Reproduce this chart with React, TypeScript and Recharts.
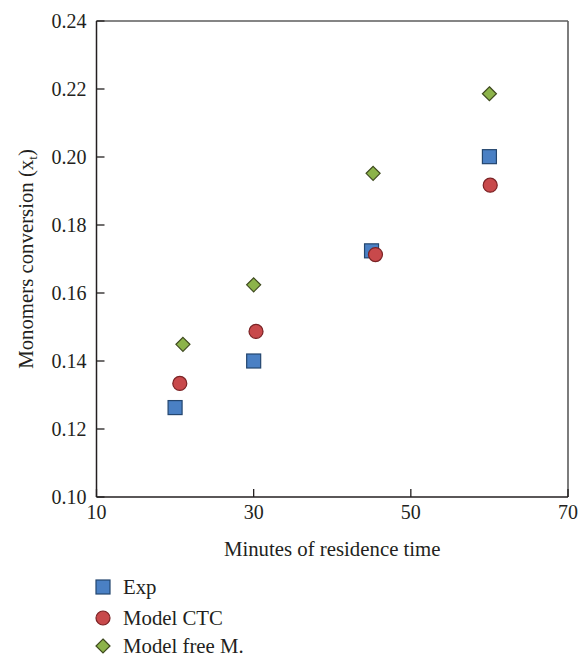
import { ScatterChart, Scatter, XAxis, YAxis, ReferenceLine, Label } from "recharts";

// residence time (min) and monomer conversion for each series
const expTime = [20, 30, 45, 60];
const expConv = [0.1263, 0.14, 0.1724, 0.2001];
const ctcTime = [20.6, 30.3, 45.5, 60.1];
const ctcConv = [0.1334, 0.1487, 0.1713, 0.1917];
const freeTime = [21, 30, 45.2, 60];
const freeConv = [0.1449, 0.1624, 0.1952, 0.2186];

const xTicks = [10, 30, 50, 70];
const yTicks = [0.1, 0.12, 0.14, 0.16, 0.18, 0.2, 0.22, 0.24];

const toPoints = (xs: number[], ys: number[]) => xs.map((x, i) => ({ x, y: ys[i] }));

const INK = "#231f20";
const FONT = "'Liberation Serif', 'DejaVu Serif', serif";
const TITLE_SIZE = 20.8;

const SQUARE = { fill: "#4a80c4", stroke: "#24466f" };
const CIRCLE = { fill: "#c8494b", stroke: "#7b2325" };
const DIAMOND = { fill: "#8cb34a", stroke: "#3f4a1f" };

const Square = ({ cx, cy }: any) => (
  <rect x={cx - 7} y={cy - 7} width={14} height={14} fill={SQUARE.fill} stroke={SQUARE.stroke} strokeWidth={1.2} />
);
const Circle = ({ cx, cy }: any) => (
  <circle cx={cx} cy={cy} r={7} fill={CIRCLE.fill} stroke={CIRCLE.stroke} strokeWidth={1.2} />
);
const Diamond = ({ cx, cy }: any) => (
  <polygon
    points={`${cx},${cy - 7} ${cx + 7},${cy} ${cx},${cy + 7} ${cx - 7},${cy}`}
    fill={DIAMOND.fill}
    stroke={DIAMOND.stroke}
    strokeWidth={1.2}
  />
);

// ticks point inward, so each tick draws its own mark plus label
const XTick = ({ x, y, payload }: any) => (
  <g>
    <line x1={x} x2={x} y1={y} y2={y - 8} stroke={INK} strokeWidth={1.3} />
    <text x={x} y={y + 22} textAnchor="middle" fontFamily={FONT} fontSize={20} fill={INK}>
      {payload.value}
    </text>
  </g>
);

const YTick = ({ x, y, payload }: any) => (
  <g>
    <line x1={x} x2={x + 8} y1={y} y2={y} stroke={INK} strokeWidth={1.3} />
    <text x={x - 10} y={y + 7} textAnchor="end" fontFamily={FONT} fontSize={20} fill={INK}>
      {Number(payload.value).toFixed(2)}
    </text>
  </g>
);

const XTitle = ({ viewBox }: any) => (
  <text
    x={viewBox.x + viewBox.width / 2}
    y={viewBox.y + 59}
    textAnchor="middle"
    fontFamily={FONT}
    fontSize={TITLE_SIZE}
    fill={INK}
  >
    Minutes of residence time
  </text>
);

const YTitle = ({ viewBox }: any) => {
  const cx = 33;
  const cy = viewBox.y + viewBox.height / 2;
  return (
    <text
      x={cx}
      y={cy}
      transform={`rotate(-90 ${cx} ${cy})`}
      textAnchor="middle"
      fontFamily={FONT}
      fontSize={TITLE_SIZE}
      fill={INK}
    >
      Monomers conversion (x<tspan dy={4} fontSize={13}>t</tspan>
      <tspan dy={-4}>)</tspan>
    </text>
  );
};

const legendItems = [
  { name: "Exp", icon: <rect x={1} y={1} width={14} height={14} fill={SQUARE.fill} stroke={SQUARE.stroke} strokeWidth={1.2} /> },
  { name: "Model CTC", icon: <circle cx={8} cy={8} r={7} fill={CIRCLE.fill} stroke={CIRCLE.stroke} strokeWidth={1.2} /> },
  {
    name: "Model free M.",
    icon: <polygon points="8,1 15,8 8,15 1,8" fill={DIAMOND.fill} stroke={DIAMOND.stroke} strokeWidth={1.2} />,
  },
];
const legendRows = [587, 618, 646];

export default function App() {
  return (
    <div style={{ position: "absolute", left: 0, top: 0, width: 578, height: 656, background: "#fff" }}>
      <ScatterChart width={578} height={656} margin={{ top: 21, right: 10, bottom: 0, left: 0 }}>
        <XAxis
          type="number"
          dataKey="x"
          domain={[10, 70]}
          ticks={xTicks}
          height={159}
          axisLine={{ stroke: INK, strokeWidth: 1.5 }}
          tickLine={false}
          tickSize={0}
          tickMargin={0}
          tick={XTick}
          interval={0}
        >
          <Label content={XTitle} />
        </XAxis>
        <YAxis
          type="number"
          dataKey="y"
          domain={[0.1, 0.24]}
          ticks={yTicks}
          width={96.5}
          axisLine={{ stroke: INK, strokeWidth: 1.5 }}
          tickLine={false}
          tickSize={0}
          tickMargin={0}
          tick={YTick}
          interval={0}
        >
          <Label content={YTitle} />
        </YAxis>
        <ReferenceLine y={0.24} stroke="#5c5c5c" strokeWidth={1.6} />
        <ReferenceLine x={70} stroke="#5c5c5c" strokeWidth={1.6} />
        <Scatter name="Exp" data={toPoints(expTime, expConv)} shape={Square} isAnimationActive={false} />
        <Scatter name="Model CTC" data={toPoints(ctcTime, ctcConv)} shape={Circle} isAnimationActive={false} />
        <Scatter name="Model free M." data={toPoints(freeTime, freeConv)} shape={Diamond} isAnimationActive={false} />
      </ScatterChart>
      {legendItems.map((item, i) => (
        <div
          key={item.name}
          style={{
            position: "absolute",
            left: 95,
            top: legendRows[i] - 12,
            height: 24,
            display: "flex",
            alignItems: "center",
            fontFamily: FONT,
            fontSize: TITLE_SIZE,
            color: INK,
            whiteSpace: "nowrap",
          }}
        >
          <svg width={16} height={16} style={{ marginRight: 12 }}>
            {item.icon}
          </svg>
          {item.name}
        </div>
      ))}
    </div>
  );
}
